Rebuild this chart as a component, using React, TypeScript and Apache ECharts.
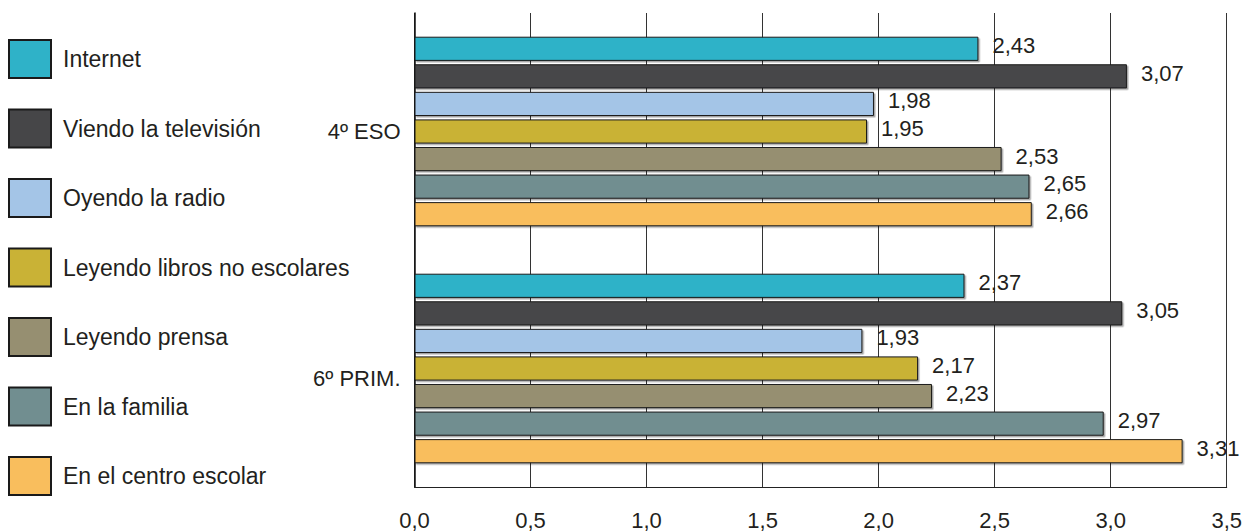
import React, { useEffect, useRef } from "react";
import * as echarts from "echarts";

const categories = ["4º ESO", "6º PRIM."];
const seriesNames = [
  "Internet",
  "Viendo la televisión",
  "Oyendo la radio",
  "Leyendo libros no escolares",
  "Leyendo prensa",
  "En la familia",
  "En el centro escolar",
];
const internet = [2.43, 2.37];
const television = [3.07, 3.05];
const radio = [1.98, 1.93];
const libros = [1.95, 2.17];
const prensa = [2.53, 2.23];
const familia = [2.65, 2.97];
const centro = [2.66, 3.31];
const seriesValues = [internet, television, radio, libros, prensa, familia, centro];
const colors = ["#2fb2c8", "#464648", "#a4c5e7", "#c9b236", "#968f71", "#718e90", "#f9be5d"];

const FONT = "'Liberation Sans', Arial, sans-serif";
const TXT = "#231f20";

export default function App() {
  const ref = useRef<HTMLDivElement>(null);
  useEffect(() => {
    if (!ref.current) return;
    const chart = echarts.init(ref.current, null, { renderer: "svg" });
    chart.setOption({
      animation: false,
      textStyle: { fontFamily: FONT },
      legend: {
        orient: "vertical",
        left: 8,
        top: 39,
        padding: 0,
        height: 490,
        itemWidth: 42,
        itemHeight: 38,
        itemGap: 29.5,
        icon: "rect",
        selectedMode: false,
        data: seriesNames,
        textStyle: { fontFamily: FONT, fontSize: 23, color: TXT, padding: [0, 0, 0, 7] },
      },
      grid: { left: 414.5, right: 17.5, top: 13, bottom: 39.3, containLabel: false },
      xAxis: {
        type: "value",
        min: 0,
        max: 3.5,
        interval: 0.5,
        axisLine: { show: true, lineStyle: { color: "#222", width: 1 } },
        axisTick: { show: false },
        splitLine: { show: true, lineStyle: { color: "#333", width: 1 } },
        axisLabel: {
          fontFamily: FONT,
          fontSize: 22,
          color: TXT,
          margin: 22,
          formatter: (v: number) => v.toFixed(1).replace(".", ","),
        },
      },
      yAxis: {
        type: "category",
        data: categories,
        inverse: true,
        axisLine: { show: true, lineStyle: { color: "#111", width: 1.5 } },
        axisTick: { show: false },
        axisLabel: {
          margin: 14,
          formatter: (v: string, i: number) => (i === 0 ? `{a|${v}}` : `{b|${v}}`),
          rich: {
            a: { fontFamily: FONT, fontSize: 22, color: TXT },
            b: { fontFamily: FONT, fontSize: 22, color: TXT, padding: [20, 0, 0, 0] },
          },
        },
      },
      series: seriesNames.map((name, i) => ({
        name,
        type: "bar",
        data: seriesValues[i],
        barCategoryGap: "20%",
        barGap: "14%",
        itemStyle: {
          color: colors[i],
          borderColor: "#1a1a1a",
          borderWidth: 1,
          shadowColor: "rgba(0,0,0,0.35)",
          shadowOffsetX: 1.5,
          shadowOffsetY: 1.5,
          shadowBlur: 0,
        },
        label: {
          show: true,
          position: "right",
          distance: 14,
          offset: [0, -3],
          fontFamily: FONT,
          fontSize: 22,
          color: TXT,
          formatter: (p: any) => Number(p.value).toFixed(2).replace(".", ","),
        },
      })),
    });
    return () => chart.dispose();
  }, []);
  return (
    <div
      ref={ref}
      style={{ position: "fixed", left: 0, top: 0, width: 1245, height: 531, background: "#fff" }}
    />
  );
}
